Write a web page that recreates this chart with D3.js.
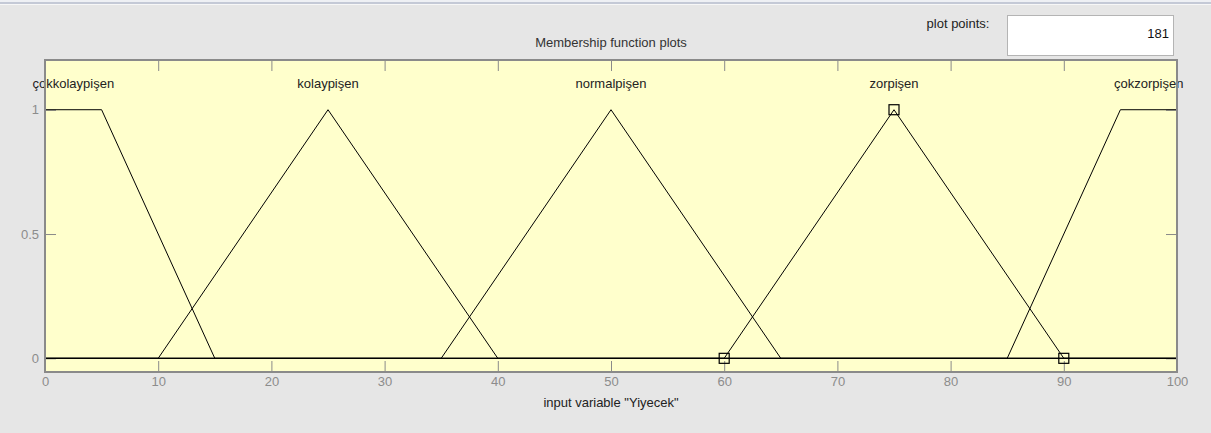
<!DOCTYPE html>
<html lang="tr">
<head>
  <meta charset="UTF-8">
  <title>Membership function plots</title>
  <style>
    body { margin: 0; background: #e6e6e6; }
    svg { display: block; font-family: Arial, "Liberation Sans", sans-serif; }
  </style>
</head>
<body>
  <script src="https://d3js.org/d3.v7.min.js"></script>
  <script>

    // membership functions of input "Yiyecek"
    const mfNames = ["çokkolaypişen", "kolaypişen", "normalpişen", "zorpişen", "çokzorpişen"];
    const mfTypes = ["trapmf", "trimf", "trimf", "trimf", "trapmf"];
    const mfParams = [
      [-5, 0, 5, 15],
      [10, 25, 40],
      [35, 50, 65],
      [60, 75, 90],
      [85, 95, 100, 105]
    ];
    const selectedMf = 3;

    const xTicks = [0, 10, 20, 30, 40, 50, 60, 70, 80, 90, 100];
    const yTicks = [0, 0.5, 1];
    const plotPoints = 181;

    const svgWidth = 1211,
      svgHeight = 433;

    const fontSize = 13;

    // plot box
    const box = { left: 45, right: 1177, top: 60, bottom: 372 };

    const xScale = d3.scaleLinear()
      .domain([0, 100])
      .range([box.left, box.right]);

    const yScale = d3.scaleLinear()
      .domain([-0.055, 1.2])
      .range([box.bottom, box.top]);

    // MF value at x
    function mfValue(type, p, x) {
      if (type === "trimf") {
        const [a, b, c] = p;
        if (x <= a || x >= c) return x === b ? 1 : 0;
        return x <= b ? (x - a) / (b - a) : (c - x) / (c - b);
      }
      const [a, b, c, d] = p;
      if (x >= b && x <= c) return 1;
      if (x <= a || x >= d) return 0;
      return x < b ? (x - a) / (b - a) : (d - x) / (d - c);
    }

    const svg = d3.select("body")
      .append("svg")
      .attr("width", svgWidth)
      .attr("height", svgHeight);

    // window top strip
    svg.append("rect").attr("x", 0).attr("y", 0).attr("width", svgWidth).attr("height", 2).attr("fill", "#eef0f4");
    svg.append("rect").attr("x", 0).attr("y", 2).attr("width", svgWidth).attr("height", 2).attr("fill", "#c4c9d6");
    svg.append("rect").attr("x", 0).attr("y", 4).attr("width", svgWidth).attr("height", 1).attr("fill", "#f7f7f7");

    // plot points box
    svg.append("text")
      .attr("x", 958).attr("y", 25)
      .attr("text-anchor", "middle")
      .attr("dominant-baseline", "middle")
      .attr("font-size", fontSize)
      .attr("fill", "#222")
      .text("plot points:");

    svg.append("rect")
      .attr("x", 1007.5).attr("y", 15.5)
      .attr("width", 166).attr("height", 40)
      .attr("fill", "#fff")
      .attr("stroke", "#b4b4b4");

    svg.append("text")
      .attr("x", 1169).attr("y", 35)
      .attr("text-anchor", "end")
      .attr("dominant-baseline", "middle")
      .attr("font-size", fontSize)
      .attr("fill", "#111")
      .text(plotPoints);

    // title
    svg.append("text")
      .attr("x", (box.left + box.right) / 2).attr("y", 44)
      .attr("text-anchor", "middle")
      .attr("dominant-baseline", "middle")
      .attr("font-size", fontSize)
      .attr("fill", "#333")
      .text("Membership function plots");

    // plot background
    svg.append("rect")
      .attr("x", box.left).attr("y", box.top)
      .attr("width", box.right - box.left).attr("height", box.bottom - box.top)
      .attr("fill", "#ffffcc");

    // axes with inward ticks
    const tickLen = 11;
    const axisColor = "#8a8a8a";

    const bottomAxis = svg.append("g")
      .attr("transform", `translate(0,${box.bottom})`)
      .call(d3.axisBottom(xScale).tickValues(xTicks).tickSizeInner(-tickLen).tickSizeOuter(0).tickPadding(5));
    const topAxis = svg.append("g")
      .attr("transform", `translate(0,${box.top})`)
      .call(d3.axisTop(xScale).tickValues(xTicks).tickSizeInner(-tickLen).tickSizeOuter(0).tickFormat(""));
    const leftAxis = svg.append("g")
      .attr("transform", `translate(${box.left},0)`)
      .call(d3.axisLeft(yScale).tickValues(yTicks).tickSizeInner(-tickLen).tickSizeOuter(0).tickPadding(6).tickFormat(d3.format("")));
    const rightAxis = svg.append("g")
      .attr("transform", `translate(${box.right},0)`)
      .call(d3.axisRight(yScale).tickValues(yTicks).tickSizeInner(-tickLen).tickSizeOuter(0).tickFormat(""));

    [bottomAxis, topAxis, leftAxis, rightAxis].forEach(g => {
      g.select(".domain").remove();
      g.selectAll(".tick line").attr("stroke", axisColor);
      g.selectAll(".tick text")
        .attr("fill", "#8c8c8c")
        .attr("font-size", fontSize)
        .attr("font-family", "Arial, 'Liberation Sans', sans-serif");
    });

    // MF curves
    const line = d3.line()
      .x(d => xScale(d[0]))
      .y(d => yScale(d[1]));

    const [xMin, xMax] = xScale.domain();

    const mfGroup = svg.append("g");

    mfNames.forEach((name, i) => {
      const p = mfParams[i];
      const xs = [xMin, ...p.filter(v => v > xMin && v < xMax), xMax];
      const pts = xs.map(x => [x, mfValue(mfTypes[i], p, x)]);

      mfGroup.append("path")
        .attr("d", line(pts))
        .attr("fill", "none")
        .attr("stroke", "#000")
        .attr("stroke-width", 1);

      // label at the centre of the peak
      const peak = pts.filter(d => d[1] === 1).map(d => d[0]);
      const cx = d3.mean([d3.min(peak), d3.max(peak)]);
      svg.append("text")
        .attr("x", xScale(cx)).attr("y", 85)
        .attr("text-anchor", "middle")
        .attr("dominant-baseline", "middle")
        .attr("font-size", fontSize)
        .attr("fill", "#222")
        .text(name);
    });

    // markers on selected MF
    const sp = mfParams[selectedMf];
    mfGroup.selectAll("rect.marker")
      .data(sp)
      .enter().append("rect")
      .attr("class", "marker")
      .attr("x", d => xScale(d) - 5)
      .attr("y", d => yScale(mfValue(mfTypes[selectedMf], sp, d)) - 5)
      .attr("width", 10).attr("height", 10)
      .attr("fill", "none")
      .attr("stroke", "#000")
      .attr("stroke-width", 1.2);

    // plot border
    svg.append("rect")
      .attr("x", box.left).attr("y", box.top)
      .attr("width", box.right - box.left).attr("height", box.bottom - box.top)
      .attr("fill", "none")
      .attr("stroke", axisColor)
      .attr("stroke-width", 2);

    // x label
    svg.append("text")
      .attr("x", (box.left + box.right) / 2).attr("y", 404)
      .attr("text-anchor", "middle")
      .attr("dominant-baseline", "middle")
      .attr("font-size", fontSize)
      .attr("fill", "#222")
      .text('input variable "Yiyecek"');

  </script>
</body>
</html>
